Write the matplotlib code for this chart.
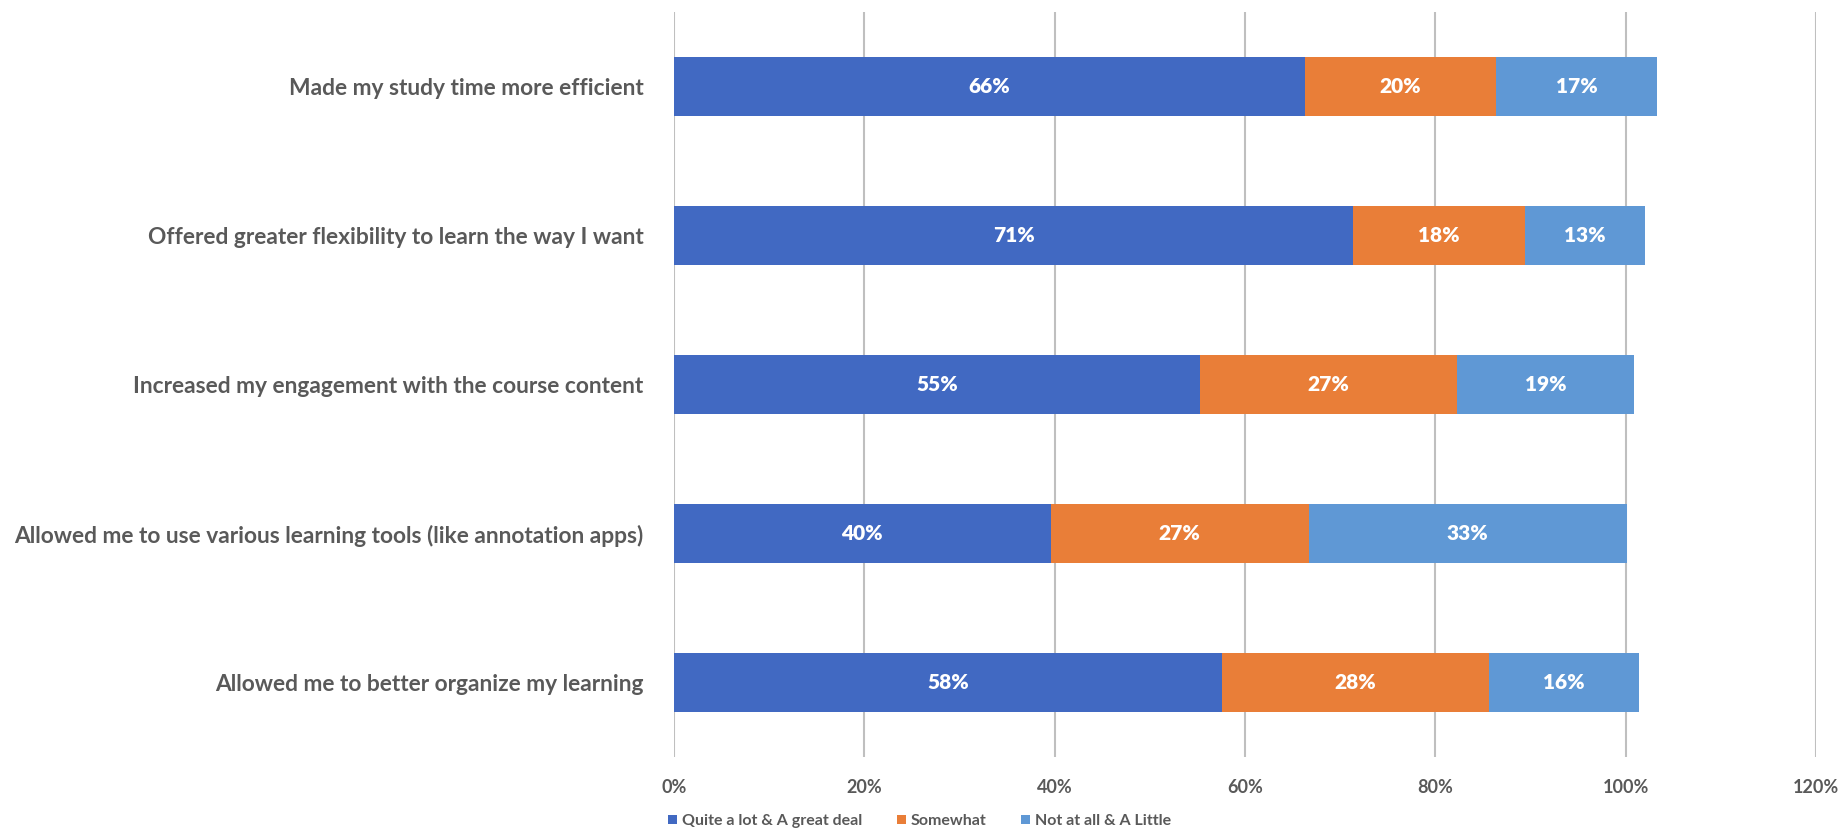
import numpy as np
import matplotlib
matplotlib.use("Agg")
import matplotlib.pyplot as plt
from matplotlib.patches import Patch

plt.rcParams['font.family'] = ['Lato', 'DejaVu Sans']

questions = [
    "Made my study time more efficient",
    "Offered greater flexibility to learn the way I want",
    "Increased my engagement with the course content",
    "Allowed me to use various learning tools (like annotation apps)",
    "Allowed me to better organize my learning",
]
series_names = ["Quite a lot & A great deal", "Somewhat", "Not at all & A Little"]
great_deal = [66.3, 71.4, 55.3, 39.6, 57.6]
somewhat = [20.1, 18.0, 27.0, 27.1, 28.0]
little = [16.9, 12.6, 18.6, 33.4, 15.8]
colors = ["#4169C2", "#E97E38", "#5F98D5"]

grey = "#595959"

fig = plt.figure(figsize=(18.41, 8.31), dpi=100)
ax = fig.add_axes([0.366, 0.089, 0.6204, 0.8966])

y = np.arange(len(questions))
left = np.zeros(len(questions))
for vals, name, c in zip([great_deal, somewhat, little], series_names, colors):
    vals = np.array(vals)
    bars = ax.barh(y, vals, left=left, height=0.39, color=c, label=name,
                   edgecolor="none", zorder=3)
    for yi, l, v in zip(y, left, vals):
        ax.text(l + v / 2, yi, f"{v:.0f}%", ha="center", va="center",
                color="white", fontsize=15, fontweight="heavy", zorder=4)
    left += vals

ax.set_xlim(0, 120)
ax.set_ylim(len(questions) - 0.5, -0.5)
ax.set_xticks(np.arange(0, 121, 20))
ax.set_xticklabels([f"{t}%" for t in range(0, 121, 20)])
ax.set_yticks(y)
ax.set_yticklabels(questions)
ax.tick_params(axis="x", length=0, pad=16, labelsize=13, labelcolor=grey)
ax.tick_params(axis="y", length=0, pad=22, labelsize=16.4, labelcolor=grey)
for lab in ax.get_xticklabels() + ax.get_yticklabels():
    lab.set_fontweight("bold")
ax.grid(axis="x", color="#BFBFBF", linewidth=1.5, zorder=0)
for s in ax.spines.values():
    s.set_visible(False)

handles = [Patch(facecolor=c, edgecolor="none") for c in colors]
fig.legend(handles, series_names, loc="center left", bbox_to_anchor=(0.355, 0.012),
           ncol=3, frameon=False, handlelength=0.55, handleheight=0.55,
           handletextpad=0.3, columnspacing=2.2,
           prop={"size": 11.5, "weight": "bold"}, labelcolor=grey)

fig.savefig("out.png", dpi=100)
